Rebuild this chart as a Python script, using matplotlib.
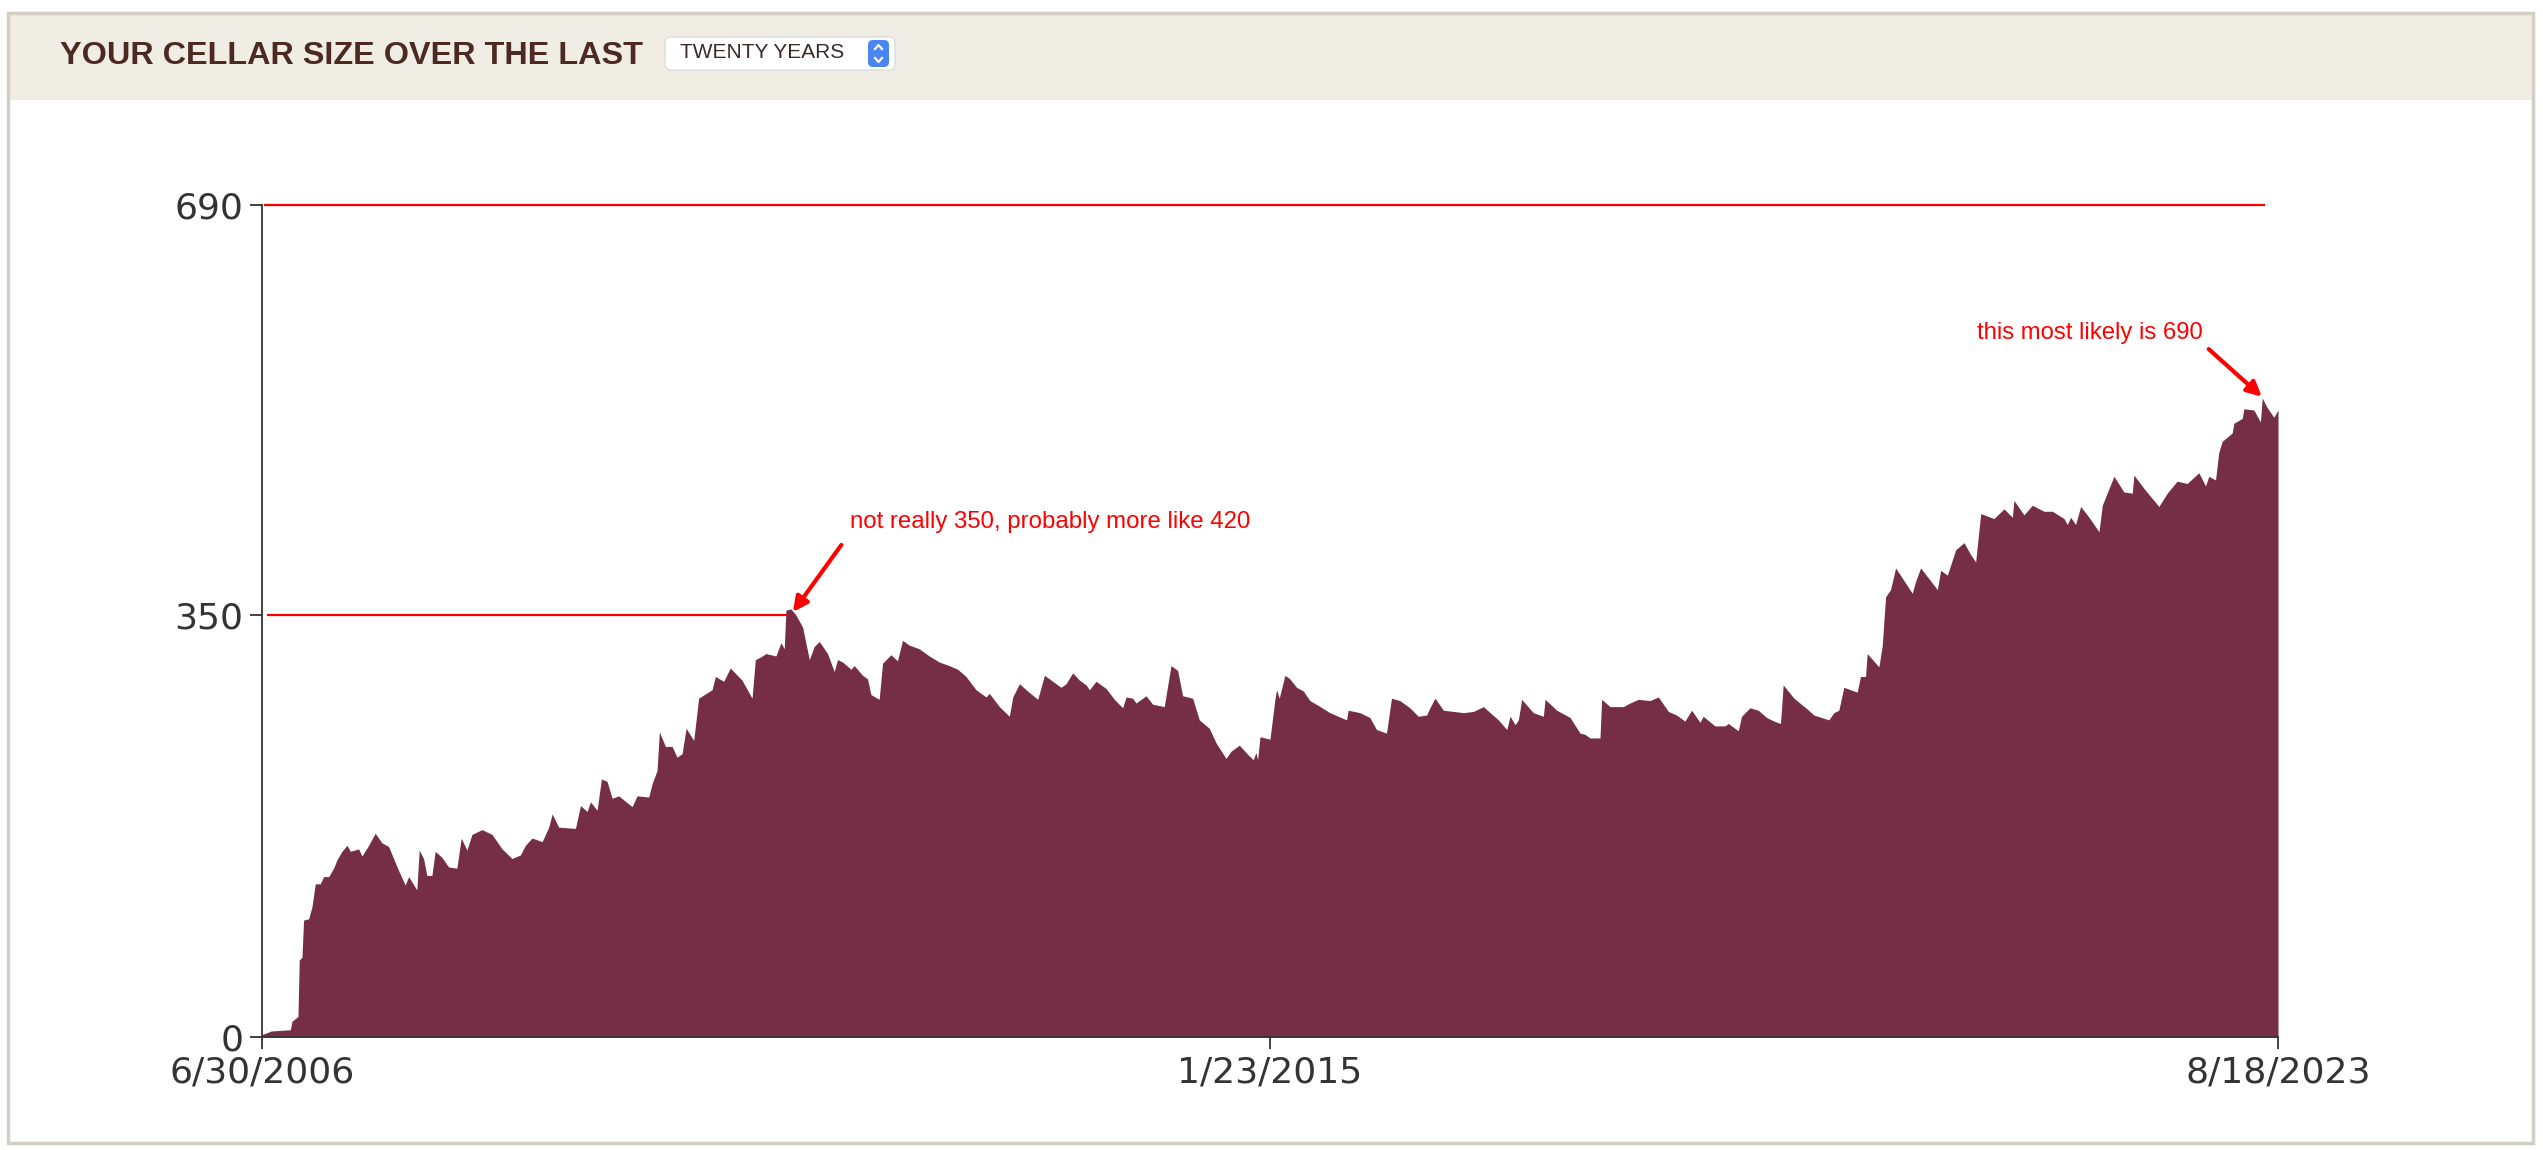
import matplotlib
matplotlib.use("Agg")
import matplotlib.pyplot as plt
from matplotlib.patches import Rectangle, FancyBboxPatch
from matplotlib.lines import Line2D
from datetime import datetime

# cellar size, x in decimal years
years = [2006.493, 2006.573, 2006.734, 2006.748, 2006.799, 2006.810, 2006.833, 2006.847, 2006.890, 2006.918,
         2006.946, 2006.989, 2007.017, 2007.060, 2007.102, 2007.131, 2007.173, 2007.216, 2007.244, 2007.315,
         2007.343, 2007.400, 2007.456, 2007.513, 2007.570, 2007.612, 2007.655, 2007.711, 2007.740, 2007.810,
         2007.830, 2007.867, 2007.895, 2007.938, 2007.966, 2008.023, 2008.080, 2008.150, 2008.187, 2008.235,
         2008.278, 2008.363, 2008.448, 2008.533, 2008.618, 2008.689, 2008.731, 2008.788, 2008.873, 2008.929,
         2008.958, 2009.014, 2009.156, 2009.199, 2009.255, 2009.284, 2009.340, 2009.377, 2009.425, 2009.468,
         2009.524, 2009.638, 2009.680, 2009.779, 2009.808, 2009.850, 2009.870, 2009.921, 2009.978, 2010.020,
         2010.063, 2010.097, 2010.162, 2010.204, 2010.318, 2010.346, 2010.417, 2010.473, 2010.572, 2010.658,
         2010.686, 2010.728,
         2010.776, 2010.861, 2010.904, 2010.932, 2010.946, 2010.989, 2011.031, 2011.088, 2011.145, 2011.187,
         2011.230, 2011.300, 2011.357, 2011.385, 2011.428, 2011.499, 2011.527, 2011.598, 2011.640, 2011.669,
         2011.739, 2011.768, 2011.839, 2011.895, 2011.938, 2011.994, 2012.079, 2012.164, 2012.249, 2012.334,
         2012.405, 2012.476, 2012.561, 2012.646, 2012.674, 2012.759, 2012.844, 2012.873, 2012.929, 2012.986,
         2013.085, 2013.142, 2013.212, 2013.283, 2013.326, 2013.382, 2013.439, 2013.496, 2013.524, 2013.581,
         2013.666, 2013.737, 2013.807, 2013.836, 2013.892, 2013.921, 2014.006, 2014.062, 2014.161, 2014.218,
         2014.275, 2014.317, 2014.402, 2014.459, 2014.544, 2014.601, 2014.686, 2014.728, 2014.799, 2014.884,
         2014.918, 2014.941, 2014.955, 2014.975, 2015.060,
         2015.102, 2015.116, 2015.139, 2015.187, 2015.229, 2015.286, 2015.343, 2015.399, 2015.470, 2015.569,
         2015.711, 2015.725, 2015.824, 2015.909, 2015.966, 2016.051, 2016.093, 2016.164, 2016.249, 2016.320,
         2016.391, 2016.419, 2016.462, 2016.533, 2016.618, 2016.703, 2016.788, 2016.873, 2016.929, 2017.000,
         2017.071, 2017.099, 2017.142, 2017.170, 2017.198, 2017.297, 2017.382, 2017.397, 2017.496, 2017.609,
         2017.694, 2017.737, 2017.779, 2017.864, 2017.878, 2017.949, 2018.062, 2018.119, 2018.190, 2018.289,
         2018.360, 2018.445, 2018.515, 2018.586, 2018.643, 2018.714, 2018.742, 2018.841, 2018.926, 2018.955,
         2019.040, 2019.068, 2019.139, 2019.210, 2019.280, 2019.343,
         2019.399, 2019.422, 2019.513, 2019.626, 2019.683, 2019.810, 2019.853, 2019.895, 2019.938, 2020.051,
         2020.079, 2020.122, 2020.136, 2020.235, 2020.263, 2020.292, 2020.334, 2020.377, 2020.518, 2020.547,
         2020.589, 2020.731, 2020.759, 2020.816, 2020.886, 2020.957, 2021.014, 2021.056, 2021.099, 2021.212,
         2021.297, 2021.368, 2021.382, 2021.467, 2021.538, 2021.637, 2021.708, 2021.807, 2021.835, 2021.864,
         2021.906, 2021.949, 2022.020, 2022.105, 2022.133, 2022.232, 2022.317, 2022.388, 2022.402, 2022.487,
         2022.614, 2022.685, 2022.770, 2022.855, 2022.954, 2023.011, 2023.039, 2023.096, 2023.124, 2023.153,
         2023.238, 2023.252, 2023.323, 2023.337, 2023.422, 2023.478, 2023.493, 2023.535, 2023.592, 2023.627]

bottles = [2, 5, 6, 13, 17, 64, 66, 97, 98, 108,
           127, 127, 133, 133, 140, 147, 154, 159, 154, 156,
           150, 159, 169, 161, 158, 148, 138, 126, 133, 122,
           155, 148, 134, 134, 154, 149, 141, 140, 165, 155,
           168, 172, 168, 156, 148, 151, 159, 165, 162, 174,
           185, 174, 173, 192, 187, 195, 188, 214, 212, 198,
           200, 191, 200, 199, 210, 221, 253, 241, 241, 232,
           235, 256, 246, 281, 288, 299, 295, 306, 296, 281,
           313, 315,
           318, 316, 327, 322, 354, 355, 350, 340, 313, 324,
           328, 318, 303, 313, 311, 305, 308, 300, 297, 284,
           280, 310, 317, 312, 329, 325, 322, 316, 311, 308,
           305, 299, 288, 282, 285, 274, 266, 282, 293, 288,
           280, 300, 295, 290, 293, 302, 296, 292, 288, 295,
           289, 280, 273, 282, 281, 277, 283, 276, 274, 308,
           304, 283, 281, 263, 256, 244, 231, 237, 242, 233,
           230, 236, 230, 249, 247,
           280, 288, 281, 300, 297, 290, 287, 279, 275, 269,
           263, 271, 269, 265, 255, 252, 281, 279, 273, 266,
           267, 273, 281, 271, 270, 269, 270, 274, 269, 263,
           255, 266, 259, 263, 280, 269, 266, 280, 271, 265,
           252, 251, 248, 248, 280, 274, 274, 277, 280, 279,
           282, 270, 267, 262, 271, 261, 266, 258, 258, 260,
           254, 266, 273, 271, 265, 262,
           260, 292, 281, 272, 267, 263, 269, 271, 290, 286,
           299, 299, 318, 307, 324, 365, 371, 389, 368, 378,
           389, 371, 387, 383, 404, 410, 400, 394, 434, 430,
           438, 431, 445, 433, 441, 436, 436, 430, 425, 431,
           425, 440, 431, 419, 441, 465, 452, 451, 466, 455,
           440, 451, 461, 459, 468, 457, 465, 462, 485, 494,
           501, 509, 513, 521, 520, 510, 530, 522, 514, 520]

y_ticks = [0, 350, 690]
x_tick_dates = [datetime(2006, 6, 30), datetime(2015, 1, 23), datetime(2023, 8, 18)]
x_tick_labels = ['6/30/2006', '1/23/2015', '8/18/2023']


def to_date(y):
    yr = int(y)
    start = datetime(yr, 1, 1)
    return start + (datetime(yr + 1, 1, 1) - start) * (y - yr)


dates = [to_date(y) for y in years]
dates[0] = x_tick_dates[0]
dates[-1] = x_tick_dates[-1]

W, H = 2543, 1150
fig = plt.figure(figsize=(W / 100, H / 100), dpi=100)
fig.patch.set_facecolor('white')

# panel frame and header band (pixel positions in inches via dpi_scale_trans)
tr = fig.dpi_scale_trans
fig.add_artist(Rectangle((8 / 100, (H - 100) / 100), 2525 / 100, 87 / 100,
                         transform=tr, fc='#f0ede5', ec='none', zorder=0))
fig.add_artist(Rectangle((8 / 100, (H - 1143) / 100), 2525 / 100, 1130 / 100,
                         transform=tr, fill=False, ec='#d4cfc5', lw=2.5, zorder=1))

fig.text(60 / 100, (H - 56) / 100, 'YOUR CELLAR SIZE OVER THE LAST', transform=tr,
         va='center', ha='left', fontsize=23.3, fontweight='bold', color='#4c2a22',
         family=['Liberation Sans', 'DejaVu Sans'])

# dropdown
fig.add_artist(FancyBboxPatch((665 / 100, (H - 70) / 100), 230 / 100, 33 / 100,
                              boxstyle='round,pad=0,rounding_size=0.06', transform=tr,
                              fc='white', ec='#d6d6d6', lw=0.8, zorder=2))
fig.text(680 / 100, (H - 53) / 100, 'TWENTY YEARS', transform=tr, va='center', ha='left',
         fontsize=15, color='#3a2a28', family=['Liberation Sans', 'DejaVu Sans'])
fig.add_artist(FancyBboxPatch((868 / 100, (H - 67) / 100), 21 / 100, 27 / 100,
                              boxstyle='round,pad=0,rounding_size=0.05', transform=tr,
                              fc='#4a86f2', ec='none', zorder=3))
cx = 878.5 / 100
fig.add_artist(Line2D([cx - 0.035, cx, cx + 0.035], [(H - 49) / 100, (H - 45) / 100, (H - 49) / 100],
                      transform=tr, color='white', lw=1.6, zorder=4))
fig.add_artist(Line2D([cx - 0.035, cx, cx + 0.035], [(H - 58) / 100, (H - 62) / 100, (H - 58) / 100],
                      transform=tr, color='white', lw=1.6, zorder=4))

# chart
ax = fig.add_axes([262 / W, 1 - 1037 / H, (2278 - 262) / W, (1037 - 205) / H])
ax.set_facecolor('none')
ax.fill_between(dates, bottles, 0, color='#762e46', lw=0, zorder=2)

ax.hlines(690, datetime(2006, 7, 6), datetime(2023, 7, 9), color='red', lw=1.6, zorder=3, clip_on=False)
ax.hlines(350, datetime(2006, 7, 15), datetime(2010, 12, 20), color='red', lw=1.6, zorder=3)

ax.set_xlim(x_tick_dates[0], x_tick_dates[-1])
ax.set_ylim(0, 690)
ax.set_yticks(y_ticks)
ax.set_yticklabels([str(v) for v in y_ticks])
ax.set_xticks(x_tick_dates)
ax.set_xticklabels(x_tick_labels)
ax.tick_params(axis='both', labelsize=26, colors='#333333', length=8.5, width=1.3, pad=5)

for s in ['top', 'right']:
    ax.spines[s].set_visible(False)
for s in ['left', 'bottom']:
    ax.spines[s].set_color('#333333')
    ax.spines[s].set_linewidth(1.3)
    ax.spines[s].set_zorder(4)

ann_font = ['Liberation Sans', 'DejaVu Sans']
ax.annotate('this most likely is 690', xy=(to_date(2023.490), 531), xytext=(to_date(2022.988), 584),
            ha='right', va='center', fontsize=17.2, color='red', family=ann_font, zorder=5,
            arrowprops=dict(arrowstyle='-|>', color='red', lw=3, mutation_scale=22,
                            relpos=(1, 0), shrinkA=3, shrinkB=0))
ax.annotate('not really 350, probably more like 420', xy=(to_date(2011.006), 352.5),
            xytext=(to_date(2011.49), 427), ha='left', va='center', fontsize=17.3, color='red',
            family=ann_font, zorder=5,
            arrowprops=dict(arrowstyle='-|>', color='red', lw=3, mutation_scale=22,
                            relpos=(0, 0), shrinkA=8, shrinkB=0))

fig.savefig('out.png', dpi=100)
